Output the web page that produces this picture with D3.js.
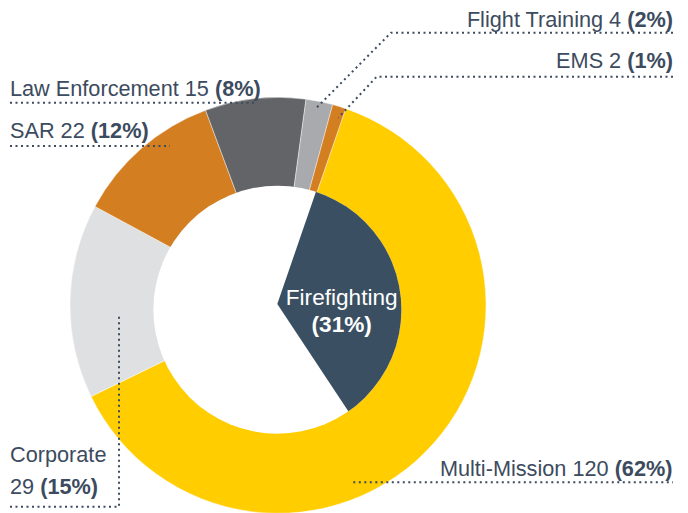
<!DOCTYPE html>
<html>
<head>
<meta charset="utf-8">
<script src="https://cdn.jsdelivr.net/npm/d3@7"></script>
<style>
  html, body { margin: 0; padding: 0; background: #fff; }
  svg text { font-family: "Liberation Sans", Arial, sans-serif; }
</style>
</head>
<body>
<svg id="chart" width="688" height="513"></svg>
<script>
// data
var categories = ["Multi-Mission", "Corporate", "SAR", "Law Enforcement", "Flight Training", "EMS"];
var counts = [120, 29, 22, 15, 4, 2];
var shares = [62, 15, 12, 8, 2, 1];
var colors = ["#FFCD00", "#DFE0E2", "#D37E21", "#636467", "#A8AAAD", "#D37E21"];

// inner slice (part of multi-mission), size estimated from its drawn angle
var subCategory = "Firefighting";
var subCount = 68;
var subShare = 31;

var svg = d3.select("#chart");
var textColor = "#3c4b5e";

var total = d3.sum(counts);
var start = 19 * Math.PI / 180;
var angle = d3.scaleLinear().domain([0, total]).range([0, 2 * Math.PI]);

var ring = {cx: 278, cy: 305.3, r: 208};
var hole = {cx: 277.4, cy: 309.7, r: 124};
var vertex = {x: 277.3, y: 304};

var rows = categories.map(function(c, i){
	return {name: c, count: counts[i], share: shares[i], color: colors[i]};
});

var pie = d3.pie().sort(null).value(function(d){ return d.count; })
	.startAngle(start).endAngle(start + angle(total));

var arc = d3.arc().innerRadius(0).outerRadius(ring.r);

svg.append("g")
	.attr("transform", "translate(" + ring.cx + "," + ring.cy + ")")
	.selectAll("path")
	.data(pie(rows))
	.enter().append("path")
		.attr("d", arc)
		.attr("fill", function(d){ return d.data.color; })
		.attr("stroke", "#fff")
		.attr("stroke-width", 0.6)
		.attr("stroke-opacity", 0.7);

// white centre
svg.append("circle")
	.attr("cx", hole.cx).attr("cy", hole.cy).attr("r", hole.r)
	.attr("fill", "#fff");

svg.append("clipPath").attr("id", "holeClip")
	.append("circle")
	.attr("cx", hole.cx).attr("cy", hole.cy).attr("r", hole.r);

var subArc = d3.arc().innerRadius(0).outerRadius(150)
	.startAngle(start).endAngle(start + angle(subCount));

svg.append("g")
	.attr("clip-path", "url(#holeClip)")
	.append("path")
	.attr("transform", "translate(" + vertex.x + "," + vertex.y + ")")
	.attr("d", subArc())
	.attr("fill", "#3A5062");

var subLabel = svg.append("g").attr("fill", "#fff").attr("font-size", 22.6).attr("text-anchor", "middle");
subLabel.append("text").attr("x", 341.7).attr("y", 305).text(subCategory);
subLabel.append("text").attr("x", 341.7).attr("y", 331.7).attr("font-weight", "bold").text("(" + subShare + "%)");

// label layout (annotation positions)
var labelLayout = {
	"Flight Training": {x: 673, y: 26.7, anchor: "end", line: [[673, 32.7], [391, 32.7], [316, 108.3]]},
	"EMS": {x: 673, y: 68.3, anchor: "end", line: [[673, 76.7], [376.7, 76.7], [338.3, 117.7]]},
	"Law Enforcement": {x: 10, y: 96, anchor: "start", line: [[10, 102.7], [256, 102.7]]},
	"SAR": {x: 10, y: 138.3, anchor: "start", line: [[10, 146], [170, 146]]},
	"Corporate": {x: 10, y: 461.7, anchor: "start", wrap: true, dy: 32.3, line: [[10, 506.7], [119, 506.7], [119, 314]]},
	"Multi-Mission": {x: 672.5, y: 475.7, anchor: "end", line: [[353.3, 482.3], [673, 482.3]]}
};

var labels = svg.append("g").attr("font-size", 21.7).attr("fill", textColor);
var lineGen = d3.line();

rows.forEach(function(d){
	var l = labelLayout[d.name];
	labels.append("path")
		.attr("d", lineGen(l.line))
		.attr("fill", "none")
		.attr("stroke", textColor)
		.attr("stroke-width", 2)
		.attr("stroke-dasharray", "2,3.5");

	if (l.wrap){
		labels.append("text").attr("x", l.x).attr("y", l.y).attr("text-anchor", l.anchor).text(d.name);
		var t2 = labels.append("text").attr("x", l.x).attr("y", l.y + l.dy).attr("text-anchor", l.anchor);
		t2.append("tspan").text(d.count + " ");
		t2.append("tspan").attr("font-weight", "bold").text("(" + d.share + "%)");
	} else {
		var t = labels.append("text").attr("x", l.x).attr("y", l.y).attr("text-anchor", l.anchor);
		t.append("tspan").text(d.name + " " + d.count + " ");
		t.append("tspan").attr("font-weight", "bold").text("(" + d.share + "%)");
	}
});
</script>
</body>
</html>
